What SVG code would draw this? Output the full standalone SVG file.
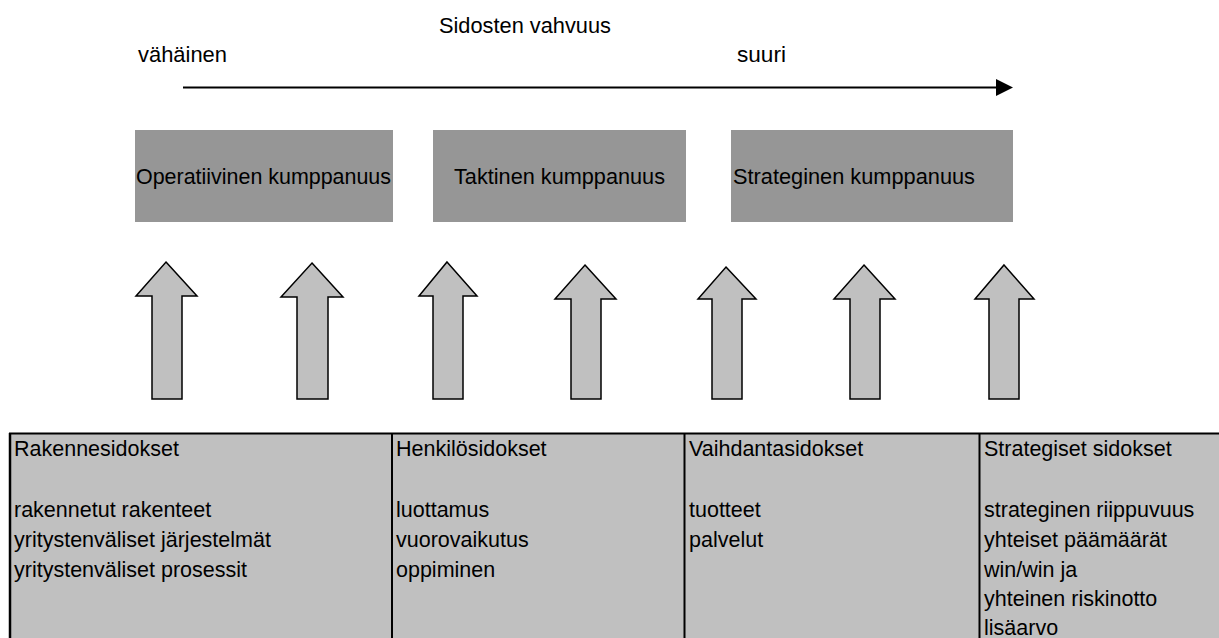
<svg xmlns="http://www.w3.org/2000/svg" width="1219" height="638" viewBox="0 0 1219 638">
<style>
text{font-family:"Liberation Sans",Arial,sans-serif;fill:#000}
.lbl{font-size:22px}
.box{fill:#969696}
.arr{fill:#c0c0c0;stroke:#000;stroke-width:1.5;stroke-linejoin:miter}
.tbl{font-size:21.5px}
.div{stroke:#000;stroke-width:2}
</style>
<rect width="1219" height="638" fill="#fff"/>
<g id="title">
<text class="lbl" x="439" y="33" textLength="172" lengthAdjust="spacingAndGlyphs">Sidosten vahvuus</text>
<text class="lbl" x="138" y="62" textLength="89" lengthAdjust="spacingAndGlyphs">vähäinen</text>
<text class="lbl" x="737" y="62" textLength="49" lengthAdjust="spacingAndGlyphs">suuri</text>
</g>
<g id="connectors">
<line x1="183" y1="87.5" x2="998" y2="87.5" stroke="#000" stroke-width="2"/>
<polygon points="996,79 1013,87.5 996,96" fill="#000"/>
</g>
<g id="operatiivinen">
<rect class="box" x="135" y="130" width="258" height="92"/>
<text class="lbl" x="136" y="184" textLength="255" lengthAdjust="spacingAndGlyphs">Operatiivinen kumppanuus</text>
</g>
<g id="taktinen">
<rect class="box" x="433" y="130" width="253" height="92"/>
<text class="lbl" x="454" y="184" textLength="211" lengthAdjust="spacingAndGlyphs">Taktinen kumppanuus</text>
</g>
<g id="strateginen">
<rect class="box" x="731" y="130" width="282" height="92"/>
<text class="lbl" x="733" y="184" textLength="242" lengthAdjust="spacingAndGlyphs">Strateginen kumppanuus</text>
</g>
<g id="arrows">
<polygon class="arr" points="166,262 197,296 182,296 182,399 152,399 152,296 136,296"/>
<polygon class="arr" points="312,263 343,297 328,297 328,399 297,399 297,297 281,297"/>
<polygon class="arr" points="447,262 477,296 463,296 463,399 433,399 433,296 419,296"/>
<polygon class="arr" points="585,265 616,299 601,299 601,399 571,399 571,299 555,299"/>
<polygon class="arr" points="726,267 756,299 742,299 742,399 712,399 712,299 698,299"/>
<polygon class="arr" points="864,265 895,299 880,299 880,399 850,399 850,299 834,299"/>
<polygon class="arr" points="1004,265 1034,299 1019,299 1019,399 989,399 989,299 975,299"/>
</g>
<g id="table">
<rect x="10" y="433" width="1209" height="205" fill="#c0c0c0"/>
<line class="div" x1="9" y1="433.5" x2="1219" y2="433.5"/>
<line x1="10" y1="433" x2="10" y2="638" stroke="#000" stroke-width="2.5"/>
<line class="div" x1="392" y1="433" x2="392" y2="638"/>
<line class="div" x1="684.5" y1="433" x2="684.5" y2="638"/>
<line class="div" x1="979.5" y1="433" x2="979.5" y2="638"/>
<g class="tbl">
<g id="col-rakenne">
<text x="14" y="456">Rakennesidokset</text>
<text x="14" y="517">rakennetut rakenteet</text>
<text x="14" y="547">yritystenväliset järjestelmät</text>
<text x="14" y="577">yritystenväliset prosessit</text>
</g>
<g id="col-henkilo">
<text x="396" y="456">Henkilösidokset</text>
<text x="396" y="517">luottamus</text>
<text x="396" y="547">vuorovaikutus</text>
<text x="396" y="577">oppiminen</text>
</g>
<g id="col-vaihdanta">
<text x="689" y="456">Vaihdantasidokset</text>
<text x="689" y="517">tuotteet</text>
<text x="689" y="547">palvelut</text>
</g>
<g id="col-strategiset">
<text x="984" y="456">Strategiset sidokset</text>
<text x="984" y="517">strateginen riippuvuus</text>
<text x="984" y="547">yhteiset päämäärät</text>
<text x="984" y="577">win/win ja</text>
<text x="984" y="606">yhteinen riskinotto</text>
<text x="984" y="635">lisäarvo</text>
</g>
</g>
</g>
</svg>
